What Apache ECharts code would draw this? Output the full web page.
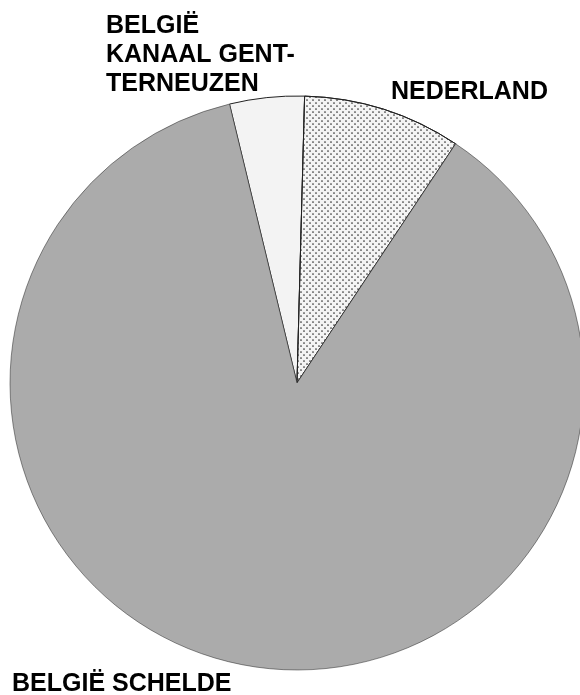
<!DOCTYPE html>
<html>
<head>
<meta charset="utf-8">
<script src="https://cdn.jsdelivr.net/npm/echarts@6/dist/echarts.min.js"></script>
<style>
  html, body { margin: 0; padding: 0; background: #fff; }
  #chart { width: 580px; height: 695px; }
</style>
</head>
<body>
<div id="chart"></div>
<script>
// slices, clockwise from the left edge of the small wedge
const names = ["BELGIË\nKANAAL GENT-\nTERNEUZEN", "NEDERLAND", "BELGIË SCHELDE"];
const shares = [4.2, 8.9, 86.9];

// where each name sits on the page
const labelPos = [
  { x: 106, y: 55 },
  { x: 391, y: 92 },
  { x: 12, y: 684 },
];

const fills = ["#f3f3f3", "#f4f4f4", "#ababab"];
const decals = [
  null,
  { color: "#333", symbol: "circle", symbolSize: 0.85, dashArrayX: [[2, 4], [0, 3, 2, 1]], dashArrayY: [2, 1] },
  null,
];

const chart = echarts.init(document.getElementById("chart"));
chart.setOption({
  animation: false,
  backgroundColor: "#fff",
  series: [
    {
      type: "pie",
      center: [297, 383],
      radius: 287,
      startAngle: 103.6,
      clockwise: true,
      silent: true,
      avoidLabelOverlap: false,
      data: names.map((n, i) => ({
        name: n,
        value: shares[i],
        itemStyle: Object.assign(
          { color: fills[i], borderColor: "#222", borderWidth: i === 2 ? 0.5 : 1 },
          decals[i] ? { decal: decals[i] } : {}
        ),
      })),
      label: {
        show: true,
        position: "outside",
        formatter: "{b}",
        overflow: "none",
        width: 400,
        color: "#000",
        fontFamily: "Liberation Sans, Arial, sans-serif",
        fontWeight: "bold",
        fontSize: 25,
        lineHeight: 29,
      },
      labelLine: { show: false },
      labelLayout(params) {
        const p = labelPos[params.dataIndex];
        return { x: p.x, y: p.y, align: "left", verticalAlign: "middle" };
      },
    },
  ],
});
</script>
</body>
</html>
